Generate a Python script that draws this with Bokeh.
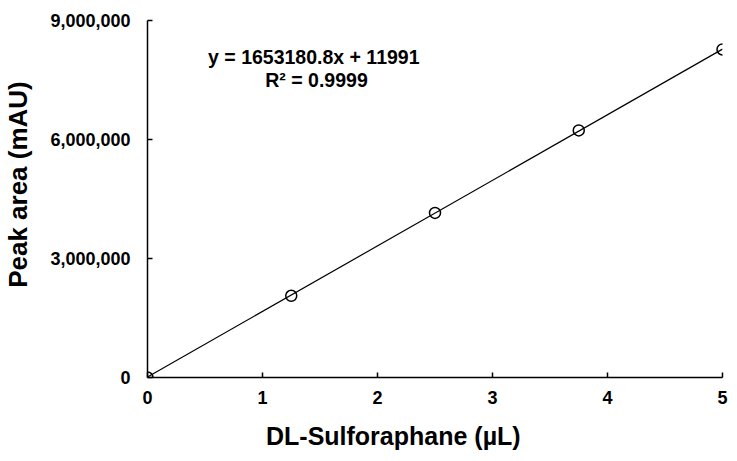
from bokeh.plotting import figure
from bokeh.models import NumeralTickFormatter, FixedTicker, Label, Range1d
from bokeh.embed import file_html
from bokeh.resources import INLINE

conc = [0, 1.25, 2.5, 3.75, 5]
area = [0, 2060000, 4150000, 6230000, 8270000]
slope = 1653180.8
intercept = 11991
x_ticks = [0, 1, 2, 3, 4, 5]
y_ticks = [0, 3000000, 6000000, 9000000]
x_title = "DL-Sulforaphane (µL)"
y_title = "Peak area (mAU)"
eq_text = "y = 1653180.8x  + 11991"
r2_text = "R² = 0.9999"

FONT = "Liberation Sans"
NBSP = "\u00a0"

p = figure(width=729, height=453, output_backend="svg", toolbar_location=None,
           x_range=Range1d(0, 5), y_range=Range1d(0, 9000000),
           min_border_left=146, min_border_right=7, min_border_top=20, min_border_bottom=76)
p.outline_line_color = None
p.grid.grid_line_color = None

line_x = [conc[0], conc[-1]]
line_y = [slope * v + intercept for v in line_x]
p.line(line_x, line_y, line_color="black", line_width=1.2)
p.scatter(conc, area, marker="circle", size=11, fill_color=None, line_color="black", line_width=1.5)

for ax in (p.xaxis, p.yaxis):
    ax.axis_line_color = "black"
    ax.axis_line_width = 1.5
    ax.major_tick_line_color = "black"
    ax.major_tick_line_width = 1.5
    ax.major_tick_in = 5
    ax.major_tick_out = 0
    ax.minor_tick_line_color = None
    ax.major_label_text_font = FONT
    ax.major_label_text_font_style = "bold"
    ax.major_label_text_font_size = "18px"
    ax.major_label_text_color = "black"
    ax.axis_label_text_font = FONT
    ax.axis_label_text_font_style = "bold"
    ax.axis_label_text_color = "black"

p.xaxis.ticker = FixedTicker(ticks=x_ticks)
p.yaxis.ticker = FixedTicker(ticks=y_ticks)
p.yaxis.formatter = NumeralTickFormatter(format="0,0")
p.xaxis.major_label_standoff = 13
p.yaxis.major_label_standoff = 17

# padding with non-breaking spaces shifts the centred titles like in the reference
p.xaxis.axis_label = x_title + NBSP * 12
p.xaxis.axis_label_text_font_size = "25px"
p.xaxis.axis_label_standoff = 15
p.yaxis.axis_label = NBSP * 4 + y_title
p.yaxis.axis_label_text_font_size = "26px"
p.yaxis.axis_label_standoff = 14

common = dict(x_units="screen", y_units="screen", text_font=FONT,
              text_font_style="bold", text_color="black")
p.add_layout(Label(x=169, y=321, text=eq_text, text_font_size="19.5px",
                   text_align="center", text_baseline="alphabetic", **common))
p.add_layout(Label(x=169, y=298, text=r2_text, text_font_size="19.5px",
                   text_align="center", text_baseline="alphabetic", **common))

open("out.html", "w").write(file_html(p, INLINE))
